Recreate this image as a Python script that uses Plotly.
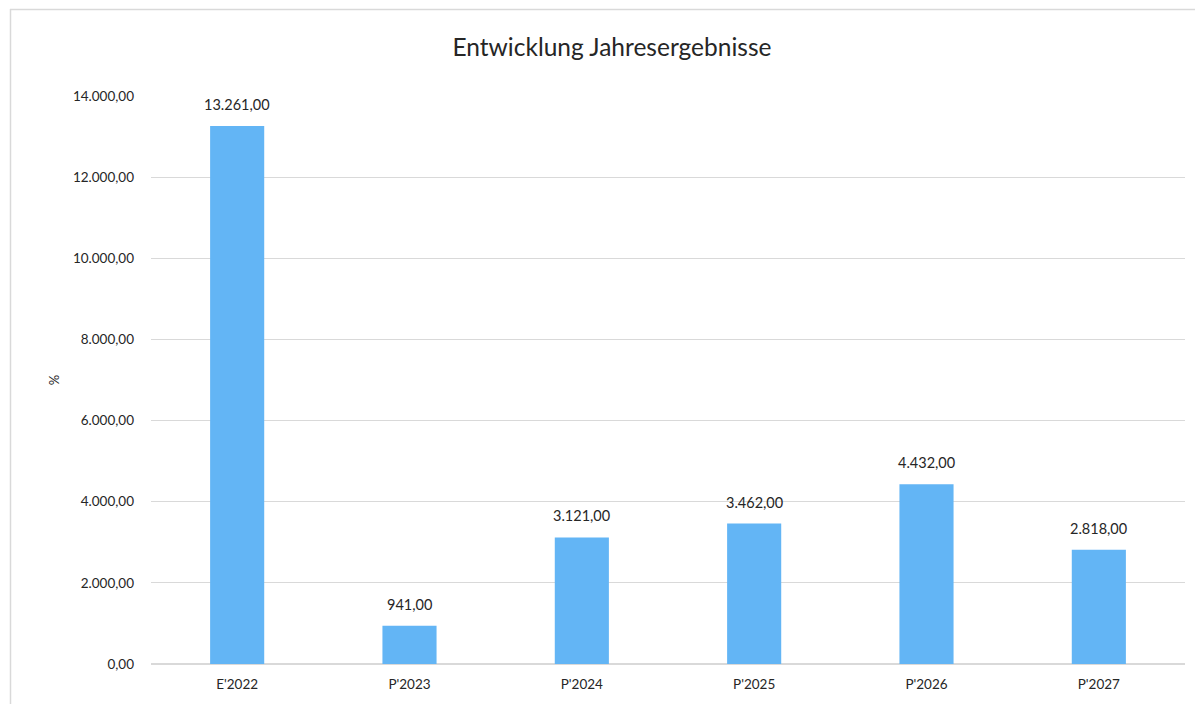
import plotly.graph_objects as go

categories = ["E'2022", "P'2023", "P'2024", "P'2025", "P'2026", "P'2027"]
values = [13261, 941, 3121, 3462, 4432, 2818]
y_ticks = [0, 2000, 4000, 6000, 8000, 10000, 12000, 14000]

OFF = 8  # page body offset
W, H = 1203 - OFF, 704 - OFF
ml, mt = 151 - OFF, 96 - OFF
pw, ph = 1034, 568
mr, mb = W - ml - pw, H - mt - ph

def px_x(px):
    return (px - OFF - ml) / pw

def px_y(py):
    return (H - mb - (py - OFF)) / ph

FONT = "Lato, Open Sans, sans-serif"

fig = go.Figure(go.Bar(
    x=categories, y=values,
    marker=dict(color="#63B5F5", line=dict(width=0)),
    hoverinfo="x+y",
))

for c, v in zip(categories, values):
    fig.add_annotation(x=c, y=v, text=f"{v:,.2f}".replace(",", "X").replace(".", ",").replace("X", "."),
                       showarrow=False, yanchor="bottom", yshift=11,
                       font=dict(family=FONT, size=14.5, color="#262626"))

fig.update_layout(
    width=W, height=H,
    margin=dict(l=ml, r=mr, t=mt, b=mb),
    paper_bgcolor="white", plot_bgcolor="white",
    separators=",.",
    bargap=0.686,
    showlegend=False,
    font=dict(family=FONT, color="#262626"),
    title=dict(text="Entwicklung Jahresergebnisse", x=(612 - OFF) / W, xref="container", xanchor="center",
               y=1 - (47 - OFF) / H, yref="container", yanchor="middle",
               font=dict(size=24.5, color="#262626")),
    xaxis=dict(showgrid=False, showline=False, ticks="", tickfont=dict(size=13.5),
               ticklabelstandoff=10),
    yaxis=dict(range=[0, 14000], tickvals=y_ticks, tickformat=",.2f",
               showgrid=True, gridcolor="#D9D9D9", gridwidth=1,
               zeroline=True, zerolinecolor="#D9D9D9", zerolinewidth=1.5,
               showline=False, ticks="", tickfont=dict(size=13.5),
               ticklabelstandoff=16,
               title=dict(text="%", font=dict(size=13), standoff=10)),
    shapes=[
        dict(type="line", xref="paper", yref="paper", x0=px_x(10), x1=px_x(1203),
             y0=px_y(9.5), y1=px_y(9.5), line=dict(color="#D9D9D9", width=1.5)),
        dict(type="line", xref="paper", yref="paper", x0=px_x(10.5), x1=px_x(10.5),
             y0=px_y(9), y1=px_y(704), line=dict(color="#D9D9D9", width=1.5)),
    ],
)

fig.write_html("out.html")
